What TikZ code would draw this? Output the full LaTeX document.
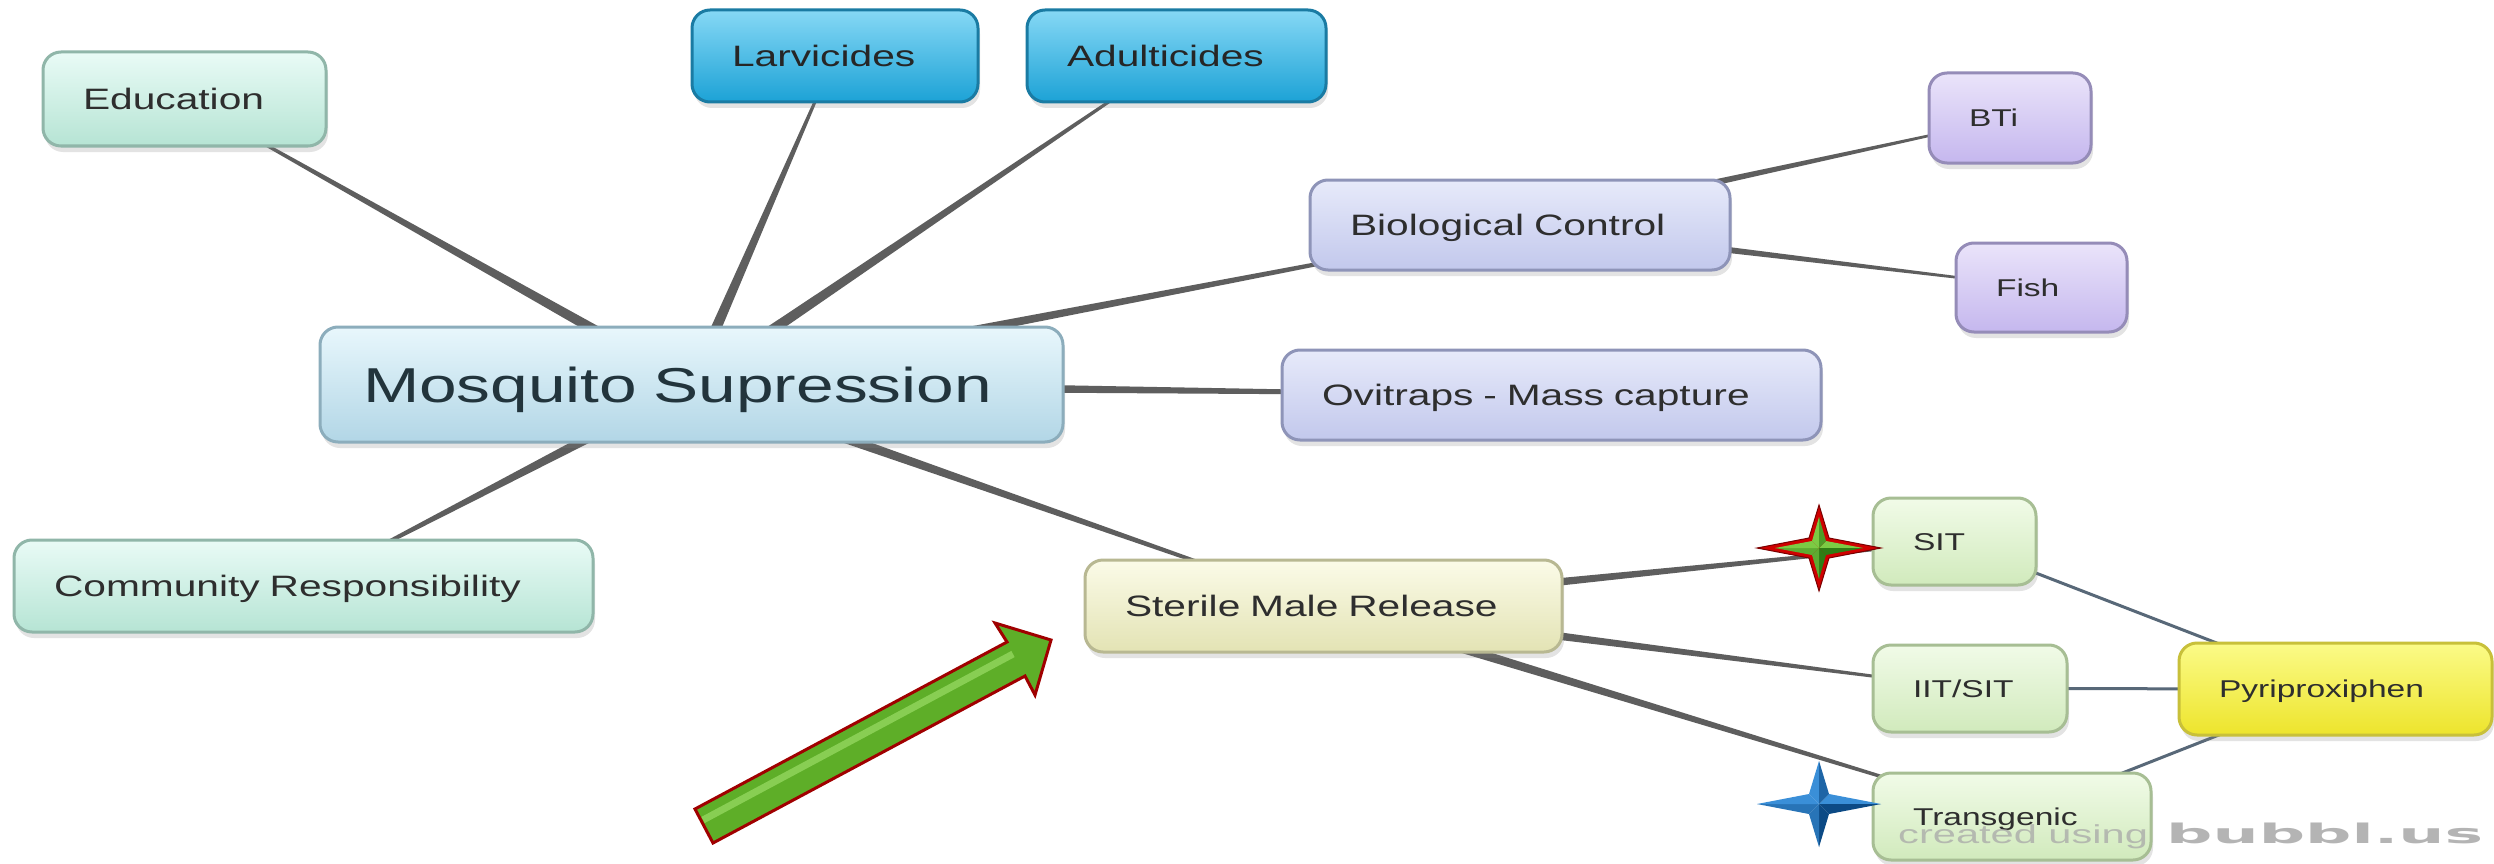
\documentclass[tikz,border=0pt]{standalone}
\usepackage{fontspec}
\setmainfont{Liberation Sans}[FakeStretch=1.38]
\newfontfamily\wmfont{Liberation Sans}[FakeStretch=1.6]
\newfontfamily\logofont{DejaVu Sans}[FakeStretch=2.4]
\usetikzlibrary{calc,shadows,backgrounds}

\definecolor{txt}{HTML}{2E2E2E}
\definecolor{mosTxt}{HTML}{22343C}
\definecolor{mintT}{HTML}{E9FBF6}\definecolor{mintL}{HTML}{B6E4D4}\definecolor{mintB}{HTML}{90B6A9}
\definecolor{bluT}{HTML}{86D8F5}\definecolor{bluL}{HTML}{1CA2D6}\definecolor{bluB}{HTML}{1A7BA3}
\definecolor{mosT}{HTML}{E8F7FC}\definecolor{mosL}{HTML}{B2D6E6}\definecolor{mosB}{HTML}{8CADBC}
\definecolor{lavT}{HTML}{E7EAFA}\definecolor{lavL}{HTML}{C2C8EC}\definecolor{lavB}{HTML}{8E94B8}
\definecolor{purT}{HTML}{EAE4FA}\definecolor{purL}{HTML}{C5B7EE}\definecolor{purB}{HTML}{958CB8}
\definecolor{yelT}{HTML}{FBFBE8}\definecolor{yelL}{HTML}{E3E3B4}\definecolor{yelB}{HTML}{B8B892}
\definecolor{grnT}{HTML}{F1FBE8}\definecolor{grnL}{HTML}{D1EABC}\definecolor{grnB}{HTML}{A7BE94}
\definecolor{pyT}{HTML}{FBFB88}\definecolor{pyL}{HTML}{EDE42C}\definecolor{pyB}{HTML}{C8C03A}
\definecolor{connC}{HTML}{5E5E5E}
\definecolor{pyConn}{HTML}{586878}
\definecolor{arrG}{HTML}{5EAE28}\definecolor{arrH}{HTML}{93D75E}\definecolor{arrR}{HTML}{A00000}
\definecolor{stRed}{HTML}{D00000}\definecolor{stRedD}{HTML}{7A0000}
\definecolor{stGL}{HTML}{7CCB44}\definecolor{stGD}{HTML}{2F7D14}
\definecolor{stBL}{HTML}{3A8FD8}\definecolor{stBD}{HTML}{0C4A85}
\definecolor{wmC}{HTML}{A8A8A8}

\newcommand\stdfs{\fontsize{29.5}{34}\selectfont}
\newcommand\smallfs{\fontsize{24.3}{28}\selectfont}
\newcommand\bigfs{\fontsize{49}{56}\selectfont}

\newcommand\taper[4]{\fill[connC] ($(#1)!#3!90:(#2)$) -- ($(#2)!#4!-90:(#1)$) -- ($(#2)!#4!90:(#1)$) -- ($(#1)!#3!-90:(#2)$) -- cycle;}
\newcommand\starpath[3]{(#1,0) -- (#3,-#3) -- (0,-#2) -- (-#3,-#3) -- (-#1,0) -- (-#3,#3) -- (0,#2) -- (#3,#3) -- cycle}
\newcommand\facets[5]{%
 \fill[#4] (0,0) -- (#3,-#3) -- (#1,0) -- cycle;
 \fill[#5] (0,0) -- (#1,0) -- (#3,#3) -- cycle;
 \fill[#5] (0,0) -- (#3,#3) -- (0,#2) -- cycle;
 \fill[#4!60!#5] (0,0) -- (0,#2) -- (-#3,#3) -- cycle;
 \fill[#4!60!#5] (0,0) -- (-#3,#3) -- (-#1,0) -- cycle;
 \fill[#4] (0,0) -- (-#1,0) -- (-#3,-#3) -- cycle;
 \fill[#4] (0,0) -- (-#3,-#3) -- (0,-#2) -- cycle;
 \fill[#4!40!#5] (0,0) -- (0,-#2) -- (#3,-#3) -- cycle;}

\tikzset{
 box/.style={rectangle, rounded corners=18pt, line width=3pt, inner xsep=40pt, inner ysep=0pt,
   align=left, text=txt, font=\stdfs, text height=21pt, text depth=0pt,
   drop shadow={opacity=0.22, shadow xshift=2pt, shadow yshift=-6pt}},
 mint/.style={box, draw=mintB, top color=mintT, bottom color=mintL},
 blu/.style={box, draw=bluB, top color=bluT, bottom color=bluL, text=black!85},
 mos/.style={box, draw=mosB, top color=mosT, bottom color=mosL, text=mosTxt, font=\bigfs, inner xsep=43pt, text height=35pt},
 lav/.style={box, draw=lavB, top color=lavT, bottom color=lavL},
 pur/.style={box, draw=purB, top color=purT, bottom color=purL, font=\smallfs, text height=17.4pt},
 yel/.style={box, draw=yelB, top color=yelT, bottom color=yelL},
 grn/.style={box, draw=grnB, top color=grnT, bottom color=grnL, font=\smallfs, text height=17.4pt},
 pyr/.style={box, draw=pyB, top color=pyT, bottom color=pyL, font=\smallfs, text height=17.4pt},
 pyline/.style={draw=pyConn, line width=3pt},
}

\begin{document}
\begin{tikzpicture}[x=1pt, y=-1pt]
\useasboundingbox (0,0) rectangle (2494,864);

% nodes
\node[mint, text width=203pt, minimum height=94pt] (edu) at (184.5,99) {Education};
\node[blu, text width=206pt, minimum height=92pt] (larv) at (835,56) {Larvicides};
\node[blu, text width=219pt, minimum height=92pt] (adul) at (1176.5,56) {Adulticides};
\node[mos, text width=657pt, minimum height=115pt] (mos) at (691.5,384.5) {Mosquito Supression};
\node[lav, text width=340pt, minimum height=90pt] (bio) at (1520,225) {Biological Control};
\node[pur, text width=82pt, minimum height=90pt] (bti) at (2010,118) {BTi};
\node[pur, text width=91pt, minimum height=89pt] (fish) at (2041.5,287.5) {Fish};
\node[lav, text width=459pt, minimum height=90pt] (ovi) at (1551.5,395) {Ovitraps - Mass capture};
\node[mint, text width=499pt, minimum height=92pt] (comm) at (303.5,586) {Community Responsibility};
\node[yel, text width=397pt, minimum height=92pt] (ster) at (1323.5,606) {Sterile Male Release};
\node[grn, text width=83pt, minimum height=87pt] (sit) at (1954.5,541.5) {SIT};
\node[grn, text width=114pt, minimum height=87pt] (iit) at (1970,688.5) {IIT/SIT};
\node[pyr, text width=233pt, minimum height=92pt] (pyri) at (2335.5,689) {Pyriproxiphen};
\node[grn, text width=198pt, minimum height=87pt] (trans) at (2012,816.5) {Transgenic};

% connectors
\begin{pgfonlayer}{background}
 \fill[white] (0,0) rectangle (2494,864);
 \taper{mos.center}{edu.center}{6pt}{0.8pt}
 \taper{mos.center}{larv.center}{6pt}{0.8pt}
 \taper{mos.center}{adul.center}{6pt}{0.8pt}
 \taper{mos.center}{bio.center}{6pt}{0.8pt}
 \taper{mos.center}{ovi.center}{6pt}{0.8pt}
 \taper{mos.center}{comm.center}{6pt}{0.8pt}
 \taper{mos.center}{ster.center}{6pt}{0.8pt}
 \taper{bio.center}{bti.center}{4.5pt}{0.7pt}
 \taper{bio.center}{fish.center}{4.5pt}{0.7pt}
 \taper{ster.center}{sit.center}{5.5pt}{0.8pt}
 \taper{ster.center}{iit.center}{5.5pt}{0.8pt}
 \taper{ster.center}{trans.center}{5.5pt}{0.8pt}
 \draw[pyline] (sit.center) -- (pyri.center);
 \draw[pyline] (iit.center) -- (pyri.center);
 \draw[pyline] (trans.center) -- (pyri.center);
\end{pgfonlayer}

% green arrow
\coordinate (a1) at (695,809);
\coordinate (a2) at (1007,642);
\coordinate (a3) at (995,623);
\coordinate (a4) at (1051,640);
\coordinate (a5) at (1035,695);
\coordinate (a6) at (1025,676);
\coordinate (a7) at (713,843);
\coordinate (h1) at (703,820);
\coordinate (h2) at (1013,654);
\fill[arrG] (a1) -- (a2) -- (a3) -- (a4) -- (a5) -- (a6) -- (a7) -- cycle;
\draw[arrH, line width=7pt, opacity=0.8] (h1) -- (h2);
\draw[arrR, line width=3pt, line join=miter] (a1) -- (a2) -- (a3) -- (a4) -- (a5) -- (a6) -- (a7) -- cycle;

% red/green star
\coordinate (s1) at (1819,548);
\begin{scope}[shift={(s1)}]
 \fill[stRed] \starpath{62}{43}{10};
 \draw[stRedD, line width=1pt] \starpath{62}{43}{10};
 \facets{44}{31}{7}{stGL}{stGD}
\end{scope}

% blue star
\coordinate (s2) at (1819,804);
\begin{scope}[shift={(s2)}]
 \facets{62}{43}{10}{stBL}{stBD}
\end{scope}

% watermark
\node[anchor=base west, inner sep=0pt, text=wmC, opacity=0.75] (wm1) at (1898,843)
  {\wmfont\fontsize{26}{26}\selectfont created using};
\node[anchor=base west, inner sep=0pt, text=wmC, opacity=0.85] (wm2) at (2166,843)
  {\logofont\bfseries\fontsize{27}{27}\selectfont bubbl.us};
\end{tikzpicture}
\end{document}
